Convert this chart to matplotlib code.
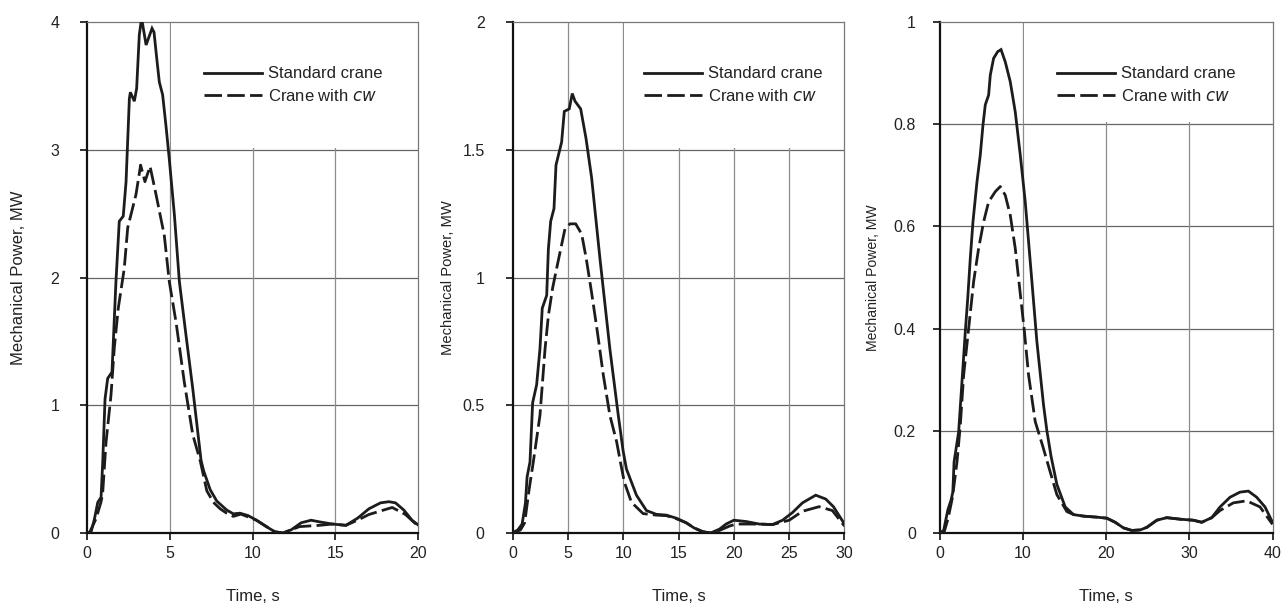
import matplotlib
matplotlib.use("Agg")
import matplotlib.pyplot as plt
from matplotlib.patches import Rectangle

plt.rcParams['font.family'] = ['Liberation Sans', 'DejaVu Sans']

# ---------------- data ----------------
# Panel 1 (0-20 s)
t1_std = [0, 0.25, 0.45, 0.65, 0.85, 0.95, 1.09, 1.25, 1.51, 1.75, 1.95, 2.19, 2.36, 2.56, 2.62,
          2.86, 3.0, 3.16, 3.3, 3.57, 3.93, 4.05, 4.21, 4.37, 4.57, 4.77, 4.97, 5.28, 5.58,
          5.98, 6.39, 6.89, 7.04, 7.44, 7.84, 8.44, 8.84, 9.24, 9.74, 10.24, 10.84, 11.34,
          11.84, 12.34, 12.94, 13.54, 14.14, 14.84, 15.64, 16.34, 17.04, 17.74, 18.24,
          18.64, 19.14, 19.64, 20]
p1_std = [0, 0.01, 0.11, 0.24, 0.28, 0.556, 1.05, 1.21, 1.26, 1.97, 2.44, 2.48, 2.75, 3.40, 3.45,
          3.38, 3.48, 3.90, 4.03, 3.82, 3.95, 3.92, 3.72, 3.53, 3.43, 3.19, 2.93, 2.49, 1.97,
          1.55, 1.13, 0.57, 0.49, 0.34, 0.25, 0.18, 0.15, 0.155, 0.136, 0.10, 0.05, 0.01,
          0.0, 0.025, 0.08, 0.10, 0.085, 0.07, 0.06, 0.115, 0.19, 0.236, 0.245,
          0.236, 0.18, 0.10, 0.064]
t1_cw = [0, 0.14, 0.54, 0.84, 0.94, 1.15, 1.45, 1.65, 1.89, 2.25, 2.46, 2.96, 3.24, 3.5, 3.81,
         4.17, 4.67, 4.97, 5.38, 5.88, 6.39, 6.85, 7.24, 7.64, 8.04, 8.44, 8.84, 9.3, 10.24,
         10.84, 11.34, 11.84, 12.84, 14.04, 14.84, 15.64, 16.34, 17.04, 18.44, 19.24, 20]
p1_cw = [0, 0.0, 0.11, 0.24, 0.30, 0.71, 1.08, 1.45, 1.76, 2.07, 2.39, 2.65, 2.88, 2.75, 2.87,
         2.65, 2.33, 1.97, 1.65, 1.18, 0.77, 0.56, 0.33, 0.24, 0.19, 0.155, 0.13, 0.148, 0.10,
         0.05, 0.01, 0.0, 0.05, 0.06, 0.07, 0.06, 0.10, 0.145, 0.20, 0.145, 0.055]

# Panel 2 (0-30 s)
t2_std = [0, 0.48, 0.87, 1.17, 1.32, 1.58, 1.82, 2.18, 2.48, 2.69, 3.09, 3.24, 3.45, 3.75, 3.93,
          4.44, 4.68, 5.13, 5.4, 5.65, 6.16, 6.64, 7.15, 7.9, 8.8, 9.56, 10.0, 10.3, 11.2,
          12.1, 13.0, 13.9, 14.8, 15.7, 16.4, 17.2, 17.9, 18.7, 19.3, 20.0, 21.1, 22.3, 23.5,
          24.4, 25.3, 26.2, 27.4, 28.3, 29.0, 30]
p2_std = [0, 0.012, 0.035, 0.118, 0.22, 0.278, 0.51, 0.58, 0.72, 0.88, 0.93, 1.11, 1.22, 1.27, 1.44,
          1.53, 1.65, 1.66, 1.72, 1.69, 1.66, 1.545, 1.39, 1.075, 0.72, 0.46, 0.32, 0.25, 0.148,
          0.088, 0.073, 0.07, 0.058, 0.04, 0.02, 0.005, 0.0, 0.015, 0.035, 0.05, 0.045, 0.035, 0.033,
          0.05, 0.08, 0.118, 0.148, 0.133, 0.103, 0.035]
t2_cw = [0, 0.72, 1.1, 1.5, 1.88, 2.48, 2.94, 3.24, 3.63, 3.99, 4.35, 4.74, 5.19, 5.71,
         6.25, 6.66, 7.15, 7.66, 8.2, 8.8, 9.41, 9.75, 10.1, 10.75, 11.8, 13.0, 13.9, 14.8, 15.7,
         16.4, 17.2, 17.9, 18.7, 19.6, 20.2, 22.3, 23.5, 25.0, 26.2, 27.7, 28.9, 30]
p2_cw = [0, 0.012, 0.04, 0.17, 0.278, 0.46, 0.72, 0.85, 0.96, 1.036, 1.11, 1.19, 1.21, 1.21,
         1.17, 1.075, 0.94, 0.79, 0.62, 0.46, 0.357, 0.278, 0.20, 0.12, 0.076, 0.07, 0.068, 0.056,
         0.04, 0.02, 0.005, 0.0, 0.01, 0.027, 0.035, 0.035, 0.033, 0.05, 0.085, 0.103, 0.088, 0.027]

# Panel 3 (0-40 s)
t3_std = [0, 0.5, 1.0, 1.4, 1.6, 1.75, 2.3, 2.7, 3.1, 3.39, 3.7, 4.02, 4.5, 4.9, 5.22, 5.5, 5.9,
          6.1, 6.5, 6.99, 7.39, 7.9, 8.5, 9.1, 9.7, 10.3, 11.1, 11.7, 12.5, 12.9, 13.4, 14.1,
          15.1, 16.1, 17.3, 18.9, 20.1, 21.1, 22.1, 23.1, 24.1, 24.9, 26.1, 27.3, 28.9, 30.5,
          31.5, 32.7, 33.7, 34.9, 36.1, 37.1, 38.1, 39.1, 40]
p3_std = [0, 0.005, 0.045, 0.065, 0.08, 0.139, 0.198, 0.296, 0.394, 0.459, 0.538, 0.609, 0.687,
          0.74, 0.798, 0.838, 0.857, 0.896, 0.929, 0.942, 0.946, 0.922, 0.883, 0.824, 0.74,
          0.648, 0.492, 0.374, 0.25, 0.20, 0.15, 0.095, 0.051, 0.036, 0.033, 0.031, 0.029,
          0.021, 0.01, 0.005, 0.006, 0.011, 0.025, 0.03, 0.027, 0.025, 0.021, 0.03, 0.051,
          0.07, 0.08, 0.082, 0.07, 0.051, 0.021]
t3_cw = [0, 0.56, 1.04, 1.56, 2.1, 2.5, 2.9, 3.5, 4.1, 4.7, 5.3, 5.9, 6.7, 7.3, 7.9, 8.5, 9.1,
         9.63, 10.2, 10.7, 11.5, 12.4, 13.2, 14.1, 15.3, 16.1, 17.3, 18.9, 20.1, 21.1,
         22.1, 23.1, 24.1, 24.9, 26.1, 27.3, 28.9, 30.5, 31.5, 32.7, 33.7, 35.3, 36.9, 38.5, 40]
p3_cw = [0, 0.002, 0.029, 0.07, 0.139, 0.211, 0.309, 0.40, 0.492, 0.557, 0.609, 0.648, 0.668,
         0.678, 0.661, 0.622, 0.557, 0.479, 0.394, 0.309, 0.218, 0.17, 0.125, 0.075,
         0.042, 0.036, 0.033, 0.031, 0.029, 0.021, 0.01, 0.005, 0.006, 0.011, 0.025, 0.03,
         0.027, 0.025, 0.021, 0.03, 0.044, 0.059, 0.063, 0.051, 0.017]

xticks = [[0, 5, 10, 15, 20], [0, 5, 10, 15, 20, 25, 30], [0, 10, 20, 30, 40]]
yticks = [[0, 1, 2, 3, 4], [0, 0.5, 1, 1.5, 2], [0, 0.2, 0.4, 0.6, 0.8, 1]]
ytick_labels = [["0", "1", "2", "3", "4"], ["0", "0.5", "1", "1.5", "2"],
                ["0", "0.2", "0.4", "0.6", "0.8", "1"]]
series_names = ["Standard crane", "Crane with $\\it{cw}$"]
xlabel = "Time, s"
ylabel = "Mechanical Power, MW"

# ---------------- layout / style ----------------
W, H = 1281, 605
fig = plt.figure(figsize=(W / 100, H / 100), dpi=100)
fig.patch.set_facecolor('white')

rects_px = [(87, 22, 331, 511), (512.5, 22, 332, 511), (939.5, 22, 333, 511)]
ylabel_x = [-0.184, -0.173, -0.179]
ylabel_size = [12, 10.6, 10.1]
ytick_pad = [15, 15, 12]
legend_left = [0.353, 0.396, 0.353]
legend_bg_x = [5, 10, 10]
legend_bg_y = [3, 1.5, 0.8]

data = [(t1_std, p1_std, t1_cw, p1_cw), (t2_std, p2_std, t2_cw, p2_cw),
        (t3_std, p3_std, t3_cw, p3_cw)]

line_col = '#1c1c1c'
for i, (l, t, w, h) in enumerate(rects_px):
    ax = fig.add_axes([l / W, 1 - (t + h) / H, w / W, h / H])
    ts, ps, tc, pc = data[i]
    xmax = xticks[i][-1]
    ymax = yticks[i][-1]
    ax.set_xlim(0, xmax)
    ax.set_ylim(0, ymax)

    for yv in yticks[i][1:-1]:
        ax.axhline(yv, color='#666666', lw=0.9, zorder=0.5)
    for xv in xticks[i][1:-1]:
        ax.axvline(xv, color='#8c8c8c', lw=0.9, zorder=0.5)

    dx = xmax * 0.004
    dy = ymax * 0.004
    ax.add_patch(Rectangle((legend_bg_x[i] + dx, legend_bg_y[i] + dy),
                           xmax - legend_bg_x[i] - dx, ymax - legend_bg_y[i] - dy,
                           facecolor='white', edgecolor='none', zorder=1))

    l1, = ax.plot(ts, ps, color=line_col, lw=2.0, zorder=3, solid_joinstyle='miter')
    l2, = ax.plot(tc, pc, color=line_col, lw=2.0, zorder=3, dashes=(6.3, 1.9),
                  dash_capstyle='butt')

    for s in ['left', 'bottom']:
        ax.spines[s].set_color('#111111')
        ax.spines[s].set_linewidth(1.6)
    for s in ['top', 'right']:
        ax.spines[s].set_color('#777777')
        ax.spines[s].set_linewidth(0.9)

    ax.set_xticks(xticks[i])
    ax.set_xticklabels([str(v) for v in xticks[i]])
    ax.set_yticks(yticks[i])
    ax.set_yticklabels(ytick_labels[i])
    ax.tick_params(direction='out', length=5, width=1.2, color='#111111',
                   labelsize=11.5, labelcolor='#222222', top=False, right=False)
    ax.tick_params(axis='x', pad=4)
    ax.tick_params(axis='y', pad=ytick_pad[i])

    ax.set_xlabel(xlabel, fontsize=12, color='#222222')
    ax.xaxis.set_label_coords(0.5, -0.11)
    ax.set_ylabel(ylabel, fontsize=ylabel_size[i], color='#222222')
    ax.yaxis.set_label_coords(ylabel_x[i], 0.5)

    leg = ax.legend([l1, l2], series_names, loc='upper left',
                    bbox_to_anchor=(legend_left[i], 0.913), frameon=False,
                    fontsize=12, handlelength=3.5, handletextpad=0.35,
                    labelspacing=0.4, borderpad=0, borderaxespad=0)
    for txt in leg.get_texts():
        txt.set_color('#222222')

fig.savefig('out.png', dpi=100, facecolor='white')
